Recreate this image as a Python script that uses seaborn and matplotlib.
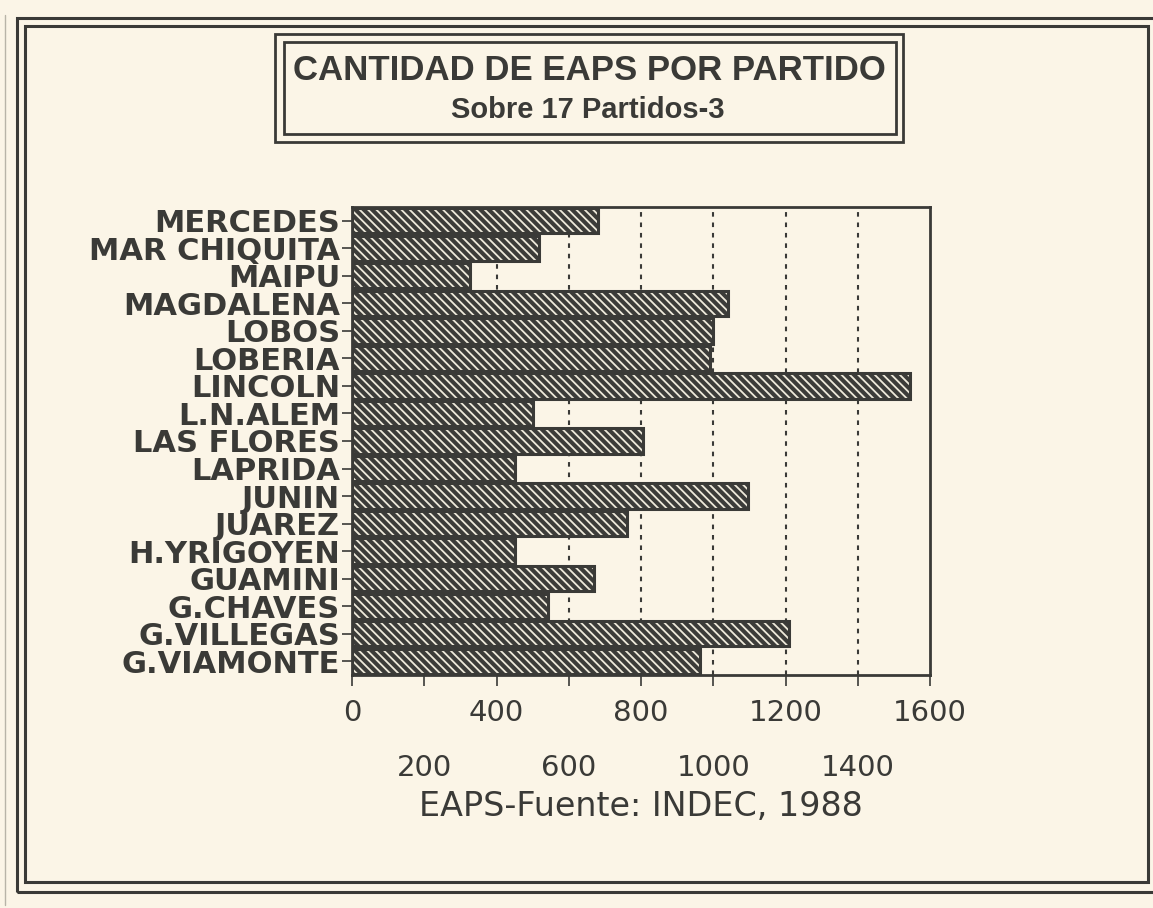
import matplotlib
matplotlib.use('Agg')
import matplotlib.pyplot as plt
import seaborn as sns
import pandas as pd
from matplotlib.patches import Rectangle
from matplotlib.lines import Line2D

# ---- data ----
partidos = ["MERCEDES", "MAR CHIQUITA", "MAIPU", "MAGDALENA", "LOBOS", "LOBERIA",
            "LINCOLN", "L.N.ALEM", "LAS FLORES", "LAPRIDA", "JUNIN", "JUAREZ",
            "H.YRIGOYEN", "GUAMINI", "G.CHAVES", "G.VILLEGAS", "G.VIAMONTE"]
eaps = [682, 517, 328, 1042, 1000, 990, 1545, 502, 805, 452, 1095, 760,
        452, 670, 542, 1210, 962]
major_ticks = [0, 400, 800, 1200, 1600]
minor_ticks = [200, 600, 1000, 1400]
grid_vals = [200, 400, 600, 800, 1000, 1200, 1400]
title = "CANTIDAD DE EAPS POR PARTIDO"
subtitle = "Sobre 17 Partidos-3"
xlabel = "EAPS-Fuente: INDEC, 1988"

sns.set_theme(style='white')
plt.rcParams['font.family'] = ['DejaVu Sans']
plt.rcParams['hatch.linewidth'] = 1.3

BG = '#fbf5e7'
INK = '#3a3a37'
W, H = 1153, 908


def fx(px):
    return px / W


def fy(py):
    return 1 - py / H


fig = plt.figure(figsize=(11.53, 9.08), dpi=100, facecolor=BG)
ax = fig.add_axes([fx(352), fy(675), fx(930) - fx(352), fy(207) - fy(675)])
ax.set_facecolor(BG)

df = pd.DataFrame({'Partido': partidos, 'EAPS': eaps})

for g in grid_vals:
    ax.axvline(g, color=INK, ls=(0, (2.2, 2.8)), lw=1.5, zorder=0)

sns.barplot(data=df, x='EAPS', y='Partido', orient='h', color='#3c3c39',
            saturation=1, width=0.92, errorbar=None, ax=ax, zorder=2)
n_bars = len(ax.patches)
for p in ax.patches[:n_bars]:
    p.set_hatch('\\\\\\\\')
    p.set_edgecolor('#efeadb')
    p.set_linewidth(0)

sns.barplot(data=df, x='EAPS', y='Partido', orient='h', color=INK,
            fill=False, linewidth=2.2, width=0.92, errorbar=None, ax=ax, zorder=3)

ax.set_xlim(0, 1600)
ax.set_xticks(major_ticks, labels=[str(v) for v in major_ticks])
ax.set_xticks(minor_ticks, labels=[str(v) for v in minor_ticks], minor=True)
ax.tick_params(axis='x', which='both', direction='out', length=8, width=1.2,
               color=INK, labelsize=21, labelcolor=INK, bottom=True)
ax.tick_params(axis='x', which='major', pad=9)
ax.tick_params(axis='x', which='minor', pad=49)
ax.tick_params(axis='y', direction='out', length=7, width=1.2, color=INK,
               labelsize=22, labelcolor=INK, pad=1.5, left=True)
for lab in ax.get_yticklabels():
    lab.set_fontweight('bold')

ax.set_ylabel('')
ax.set_xlabel(xlabel, fontsize=24, color=INK)
ax.xaxis.set_label_coords(0.5, -0.245)

for s in ax.spines.values():
    s.set_visible(True)
    s.set_color(INK)
    s.set_linewidth(2)

# outer page frame
fig.add_artist(Rectangle((fx(17), fy(892)), fx(1170) - fx(17), fy(18) - fy(892),
                         transform=fig.transFigure, fill=False, ec=INK, lw=2.2))
fig.add_artist(Rectangle((fx(25), fy(882)), fx(1148) - fx(25), fy(26) - fy(882),
                         transform=fig.transFigure, fill=False, ec=INK, lw=2.2))
fig.add_artist(Line2D([fx(5), fx(5)], [fy(15), fy(905)], transform=fig.transFigure,
                      color='#b8b4a8', lw=1))

# title box
fig.add_artist(Rectangle((fx(275), fy(142)), fx(903) - fx(275), fy(34) - fy(142),
                         transform=fig.transFigure, fill=False, ec=INK, lw=2))
fig.add_artist(Rectangle((fx(284), fy(134)), fx(896) - fx(284), fy(42) - fy(134),
                         transform=fig.transFigure, fill=False, ec=INK, lw=2))
fig.text(fx(589), fy(70), title, ha='center', va='center', fontsize=25,
         fontweight='bold', color=INK, family=['Liberation Sans', 'DejaVu Sans'])
fig.text(fx(588), fy(110), subtitle, ha='center', va='center', fontsize=21,
         fontweight='bold', color=INK, family=['Liberation Sans', 'DejaVu Sans'])

fig.savefig('out.png', dpi=100, facecolor=BG)
